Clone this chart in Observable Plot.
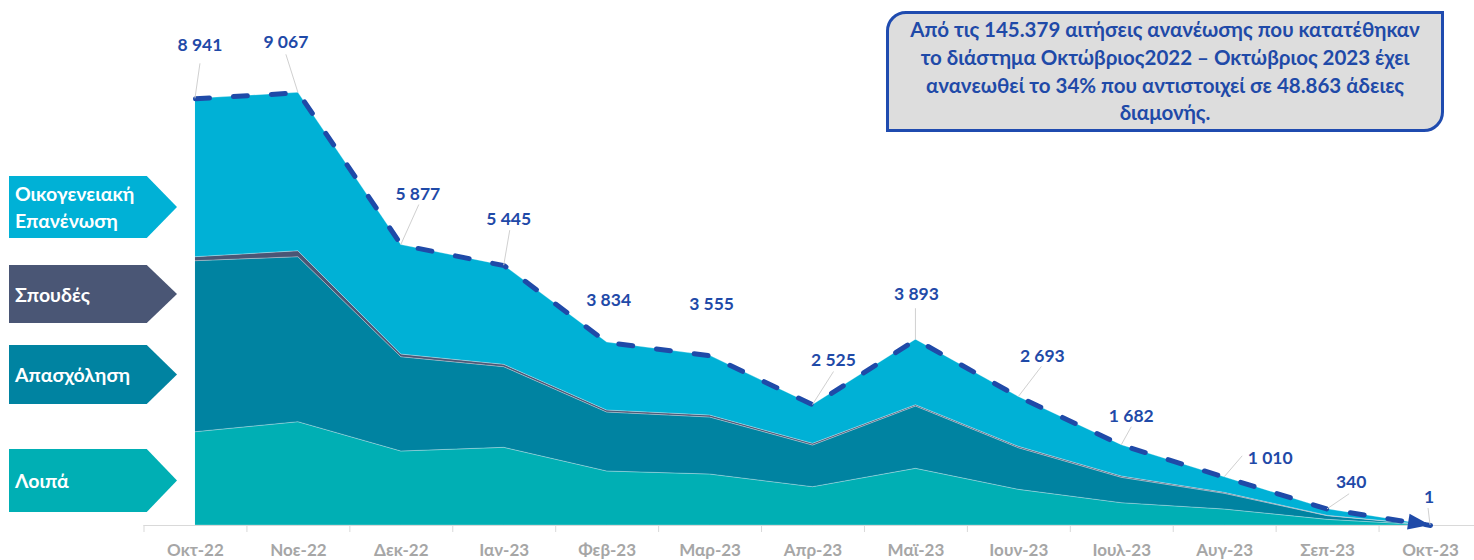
<!DOCTYPE html>
<html>
<head>
<meta charset="utf-8">
<script src="https://cdn.jsdelivr.net/npm/d3@7"></script>
<script src="https://cdn.jsdelivr.net/npm/@observablehq/plot@0.6"></script>
<style>
  body { margin: 0; background: #fff; font-family: Lato, "Open Sans", sans-serif; }
  #wrap { position: relative; width: 1474px; height: 560px; overflow: hidden; }
  #chart { position: absolute; left: 0; top: 0; }
  .tag { position: absolute; left: 9px; width: 168px; color: #fff; font-weight: 700; font-size: 19.5px; line-height: 27px;
         clip-path: polygon(0 0, 82% 0, 100% 50%, 82% 100%, 0 100%); display: flex; align-items: center;
         padding-left: 6px; box-sizing: border-box; }
  .note { position: absolute; left: 886px; top: 11px; width: 558px; height: 121px; box-sizing: border-box;
          border: 3px solid #1f4baf; background: #dddddd; border-radius: 20px 0 20px 0; color: #1f4aa8;
          font-weight: 700; font-size: 20.5px; line-height: 27.7px; text-align: center; display: flex;
          align-items: center; justify-content: center; white-space: nowrap; }
</style>
</head>
<body>
<div id="wrap">
  <div id="chart"></div>
  <div class="note"><div>Από τις 145.379 αιτήσεις ανανέωσης που κατατέθηκαν<br>το διάστημα Οκτώβριος2022 – Οκτώβριος 2023 έχει<br>ανανεωθεί το 34% που αντιστοιχεί σε 48.863 άδειες<br>διαμονής.</div></div>
  <div id="tags"></div>
</div>
<script>
// ---- data ----
const months = ["Οκτ-22","Νοε-22","Δεκ-22","Ιαν-23","Φεβ-23","Μαρ-23","Απρ-23","Μαϊ-23","Ιουν-23","Ιουλ-23","Αυγ-23","Σεπ-23","Οκτ-23"];
const totals = [8941, 9067, 5877, 5445, 3834, 3555, 2525, 3893, 2693, 1682, 1010, 340, 1];
const loipa = [1955, 2165, 1551, 1628, 1132, 1069, 803, 1188, 748, 468, 335, 119, 0];
const apasxolisi = [3584, 3458, 1976, 1690, 1236, 1194, 873, 1306, 872, 531, 329, 77, 0];
const spoudes = [84, 125, 56, 49, 42, 42, 36, 27, 29, 28, 20, 8, 0];
const oikogeneiaki = [3318, 3319, 2294, 2078, 1424, 1250, 813, 1372, 1044, 655, 326, 136, 1];
const seriesNames = ["Λοιπά", "Απασχόληση", "Σπουδές", "Οικογενειακή Επανένωση"];
const seriesValues = [loipa, apasxolisi, spoudes, oikogeneiaki];
const tagLabels = ["Οικογενειακή<br>Επανένωση", "Σπουδές", "Απασχόληση", "Λοιπά"];

// ---- layout / style (not data) ----
const seriesColors = ["#00afb4", "#0083a1", "#4a5675", "#00b1d6"];
const tagColors = ["#00b1d6", "#4a5675", "#0083a1", "#00afb4"];
const tagBoxes = [[176, 62], [265, 58], [345, 59], [449, 63]];
const labelOffsets = [[5,-53],[-12,-50],[17,-51],[5,-46],[2,-42],[2,-51],[21,-45],[1,-45],[24,-41],[10,-29],[46,-19],[24,-27],[-1,-28]];
const leaderEnds = [[5,-35],[-12,-38],[18,-40],[6,-35],null,null,[21,-33],[0,-31],[23,-30],[10,-18],[18,-21],[22,-15],[-2,-17]];
const blue = "#1f4aa8";

const table = [];
seriesNames.forEach((s, k) => months.forEach((m, i) => table.push({i, month: m, series: s, value: seriesValues[k][i]})));
const idx = months.map((m, i) => i);
const boundaries = months.concat([""]).map((m, i) => i - 0.5);

function annotations(index, scales) {
  const g = d3.create("svg:g");
  totals.forEach((v, i) => {
    const px = scales.x(i), py = scales.y(v);
    const le = leaderEnds[i];
    if (le) g.append("line").attr("x1", px).attr("y1", py).attr("x2", px + le[0]).attr("y2", py + le[1])
      .attr("stroke", "#d0d0d0").attr("stroke-width", 1);
  });
  // arrow head at end of total line
  const n = totals.length - 1;
  const x1 = scales.x(n - 1), y1 = scales.y(totals[n - 1]), x2 = scales.x(n), y2 = scales.y(totals[n]);
  const a = Math.atan2(y2 - y1, x2 - x1) * 180 / Math.PI;
  g.append("path").attr("d", "M0,0L-22,-8L-22,8Z").attr("fill", blue)
    .attr("transform", `translate(${x2},${y2}) rotate(${a})`);
  totals.forEach((v, i) => {
    const px = scales.x(i), py = scales.y(v);
    const [dx, dy] = labelOffsets[i];
    g.append("text").attr("x", px + dx).attr("y", py + dy).attr("dy", "0.35em")
      .attr("text-anchor", "middle").attr("fill", blue).attr("font-weight", 700).attr("font-size", 17.5)
      .text(d3.format(",")(v).replace(/,/g, " "));
  });
  return g.node();
}

const chart = Plot.plot({
  width: 1474,
  height: 560,
  marginLeft: 143.5,
  marginRight: 0,
  marginTop: 47.8,
  marginBottom: 35,
  style: {fontFamily: 'Lato, "Open Sans", sans-serif', background: "transparent", overflow: "visible"},
  x: {type: "linear", domain: [-0.5, 12.5], range: [143.5, 1481.5], axis: null},
  y: {domain: [0, 10000], axis: null},
  marks: [
    Plot.areaY(table, Plot.stackY({
      x: "i", y: "value", z: "series", order: seriesNames,
      fill: d => seriesColors[seriesNames.indexOf(d.series)],
      stroke: "#ffffff", strokeOpacity: 0.35, strokeWidth: 0.8
    })),
    Plot.ruleY([0], {stroke: "#d9d9d9", strokeWidth: 1}),
    Plot.axisX({ticks: boundaries, tickSize: 7, tickFormat: null, text: null, label: null, stroke: "#d9d9d9"}),
    Plot.axisX({ticks: idx, tickSize: 0, tickPadding: 18, tickFormat: i => months[i], label: null,
      fill: "#a6a6a6", fontSize: 17, fontWeight: 700}),
    Plot.lineY(totals, {x: (d, i) => i, y: d => d, stroke: blue, strokeWidth: 5,
      strokeDasharray: "14,24", strokeLinecap: "round", strokeLinejoin: "round"}),
    annotations
  ]
});
document.getElementById("chart").appendChild(chart);

const tags = document.getElementById("tags");
tagLabels.forEach((t, k) => {
  const d = document.createElement("div");
  d.className = "tag";
  d.style.top = tagBoxes[k][0] + "px";
  d.style.height = tagBoxes[k][1] + "px";
  d.style.background = tagColors[k];
  d.innerHTML = "<div>" + t + "</div>";
  tags.appendChild(d);
});
</script>
</body>
</html>
